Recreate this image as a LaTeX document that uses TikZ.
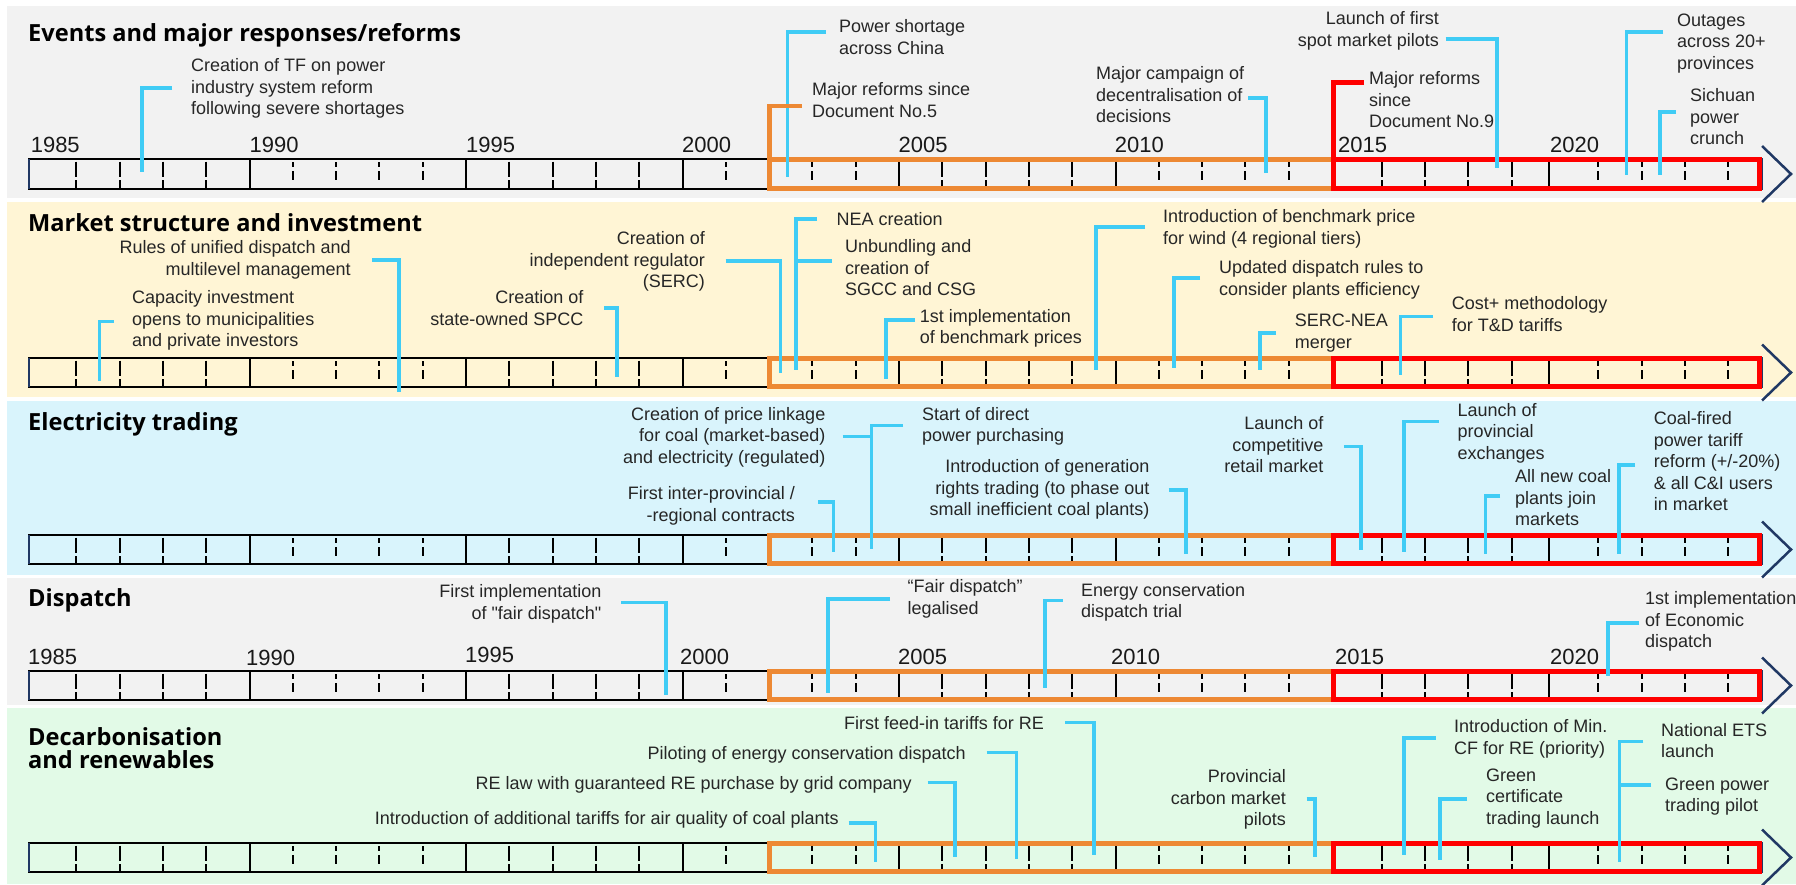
\documentclass[tikz,border=0pt]{standalone}
\usepackage{fontspec}
\setmainfont{Liberation Sans}
\newfontfamily\plainfont{Liberation Sans}[Ligatures=TeXOff]
\newfontfamily\titlefont{Open Sans}
\definecolor{bandgray}{RGB}{242,242,242}
\definecolor{bandyellow}{RGB}{255,245,213}
\definecolor{bandblue}{RGB}{217,244,252}
\definecolor{bandgreen}{RGB}{226,250,231}
\definecolor{cyanline}{RGB}{64,204,245}
\definecolor{orangeline}{RGB}{237,137,52}
\definecolor{navyline}{RGB}{32,56,100}
\tikzset{
  conn/.style={draw=cyanline, line width=3.5pt},
  oconn/.style={draw=orangeline, line width=4.5pt},
  rconn/.style={draw=red, line width=5pt},
  lbl/.style={font=\fontsize{18}{21.5}\selectfont, inner sep=0pt, text=black!85, execute at begin node=\strut},
  lblL/.style={lbl, anchor=north west, align=left},
  lblR/.style={lbl, anchor=north east, align=right},
  ttl/.style={font=\titlefont\bfseries\fontsize{23.6}{23.3}\selectfont, inner sep=0pt, anchor=north west, align=left, execute at begin node=\strut},
  yr/.style={font=\fontsize{22}{26}\selectfont, inner sep=0pt, anchor=west, text=black!90},
  segbox/.style={draw=black, line width=2pt},
  tickln/.style={draw=black, line width=2pt},
  navybody/.style={draw=navyline, line width=2pt},
  orangebox/.style={draw=orangeline, line width=4.5pt},
  redbox/.style={draw=red, line width=5pt},
  arrowhd/.style={draw=navyline, line width=2.5pt, line join=miter}
}
\newcommand{\tlbar}[2]{%
  \pgfmathsetmacro\tbC{(#1+#2)/2}%
  \draw[navybody] (29,#1) rectangle (1762,#2);
  \draw[segbox] (29,#1) rectangle (249.5,#2);
  \draw[segbox] (249.5,#1) rectangle (466,#2);
  \draw[segbox] (466,#1) rectangle (682.5,#2);
  \draw[segbox] (682.5,#1) rectangle (769.5,#2);
  \draw[navybody] (29,#1) -- (29,#2);
  \foreach \yr in {1986,...,2024}{%
    \pgfmathtruncatemacro\tkm{mod(\yr,5)}%
    \pgfmathtruncatemacro\tks{mod(floor((\yr-1985)/5),2)}%
    \pgfmathsetmacro\tkx{33+43.3*(\yr-1985)+6.5*(\yr>2015)}%
    \ifnum\tkm=0\relax\else\ifnum\yr=2002\relax\else
      \ifnum\tks=0
        \draw[tickln] (\tkx,#1+2.5) -- (\tkx,#1+18) (\tkx,#1+21) -- (\tkx,#2-1.5);
      \else
        \draw[tickln] (\tkx,#1+3) -- (\tkx,#1+7.5) (\tkx,#1+12) -- (\tkx,#1+21);
      \fi
    \fi\fi
  }
  \foreach \xx in {899,1115.5,1549}{\draw[tickln] (\xx,#1) -- (\xx,#2);}
  \draw[orangebox] (769.5,#1+0.3) rectangle (1333.5,#2-0.3);
  \draw[redbox] (1333.5,#1+0.5) rectangle (1759.5,#2-1);
  \draw[arrowhd] (1762,\tbC-28) -- (1791,\tbC) -- (1762,\tbC+28);
}
\begin{document}
\begin{tikzpicture}[x=1pt,y=-1pt]
\useasboundingbox (0,0) rectangle (1796,884);
\fill[white] (0,0) rectangle (1796,884);
% bands
\fill[bandgray] (7,6) rectangle (1796,198);
\fill[bandyellow] (7,201.5) rectangle (1796,397);
\fill[bandblue] (7,400.5) rectangle (1796,575);
\fill[bandgray] (7,577.5) rectangle (1796,705);
\fill[bandgreen] (7,707.5) rectangle (1796,884);
% titles
\node[ttl] (t1) at (28,23.7) {Events and major responses/reforms};
\node[ttl] (t2) at (28,213.7) {Market structure and investment};
\node[ttl] (t3) at (28,412.4) {Electricity trading};
\node[ttl] (t4) at (28,588.7) {Dispatch};
\node[ttl] (t5) at (28,727.4) {Decarbonisation\\and renewables};
% bars
\tlbar{159}{189}
\tlbar{358}{387}
\tlbar{535}{564}
\tlbar{671}{700}
\tlbar{843}{872}
% years band 1
\node[yr] (ya85) at (30.6,145) {1985};
\node[yr] (ya90) at (249.5,145) {1990};
\node[yr] (ya95) at (466,145) {1995};
\node[yr] (ya00) at (682,145) {2000};
\node[yr] (ya05) at (898.5,145) {2005};
\node[yr] (ya10) at (1114.7,145) {2010};
\node[yr] (ya15) at (1338,145) {2015};
\node[yr] (ya20) at (1550,145) {2020};
% years band 4
\node[yr] (yb85) at (28,657) {1985};
\node[yr] (yb90) at (246,658) {1990};
\node[yr] (yb95) at (465,655) {1995};
\node[yr] (yb00) at (680,657) {2000};
\node[yr] (yb05) at (898,657) {2005};
\node[yr] (yb10) at (1111,657) {2010};
\node[yr] (yb15) at (1335,657) {2015};
\node[yr] (yb20) at (1550,657) {2020};

% ===== Band 1 labels =====
\node[lblL] (e1) at (191,58.5) {Creation of TF on power\\industry system reform\\following severe shortages};
\node[lblL] (e2) at (839,19.5) {Power shortage\\across China};
\node[lblL] (e3) at (812,82.5) {Major reforms since\\Document No.5};
\node[lblL] (e4) at (1096,66.5) {Major campaign of\\decentralisation of\\decisions};
\node[lblR] (e5) at (1439,11.5) {Launch of first\\spot market pilots};
\node[lblL] (e6) at (1369,71.5) {Major reforms\\since\\Document No.9};
\node[lblL] (e7) at (1677,13.5) {Outages\\across 20+\\provinces};
\node[lblL] (e8) at (1690,88.5) {Sichuan\\power\\crunch};
\coordinate (e1a) at (172,88);     \coordinate (e1b) at (142,172);
\coordinate (e2a) at (826,32);     \coordinate (e2b) at (787.5,177);
\coordinate (e3a) at (802,106);    \coordinate (e3b) at (769.5,160);
\coordinate (e4a) at (1248,98);    \coordinate (e4b) at (1266,173);
\coordinate (e5a) at (1445.5,39);  \coordinate (e5b) at (1497,168);
\coordinate (e6a) at (1364,82);    \coordinate (e6b) at (1333.5,160);
\coordinate (e7a) at (1663,32);    \coordinate (e7b) at (1626.5,175);
\coordinate (e8a) at (1676,112);   \coordinate (e8b) at (1660,175);
\draw[conn] (e1a) -| (e1b);
\draw[conn] (e2a) -| (e2b);
\draw[oconn] (e3a) -| (e3b);
\draw[conn] (e4a) -| (e4b);
\draw[conn] (e5a) -| (e5b);
\draw[rconn] (e6a) -| (e6b);
\draw[conn] (e7a) -| (e7b);
\draw[conn] (e8a) -| (e8b);

% ===== Band 2 labels =====
\node[lblR] (m1) at (351,240.5) {Rules of unified dispatch and\\multilevel management};
\node[lblL] (m2) at (132,290.5) {Capacity investment\\opens to municipalities\\and private investors};
\node[lblR] (m3) at (583.6,290.5) {Creation of\\state-owned SPCC};
\node[lblR] (m4) at (705,231.5) {Creation of\\independent regulator\\(SERC)};
\node[lblL] (m5) at (836.5,210.5) {NEA creation};
\node[lblL] (m6) at (845,239.5) {Unbundling and\\creation of\\SGCC and CSG};
\node[lblL] (m7) at (919.6,309.2) {1st implementation\\of benchmark prices};
\node[lblL] (m8) at (1163,209.5) {Introduction of benchmark price\\for wind (4 regional tiers)};
\node[lblL] (m9) at (1219,260.5) {Updated dispatch rules to\\consider plants efficiency};
\node[lblL] (m10) at (1294.7,314.2) {SERC-NEA\\merger};
\node[lblL] (m11) at (1451.6,296.5) {Cost+ methodology\\for T\&D tariffs};
\coordinate (m1a) at (372,260);     \coordinate (m1b) at (399,392);
\coordinate (m2a) at (114,321.7);   \coordinate (m2b) at (99.5,381);
\coordinate (m3a) at (604,308);     \coordinate (m3b) at (617,377);
\coordinate (m4a) at (725.5,261);   \coordinate (m4b) at (780.6,373);
\coordinate (m5a) at (817,219);     \coordinate (m5b) at (796,370);
\coordinate (m6a) at (831.5,261);   \coordinate (m6b) at (796,261);
\coordinate (m7a) at (915,320);     \coordinate (m7b) at (886,379);
\coordinate (m8a) at (1145,227);    \coordinate (m8b) at (1096,370);
\coordinate (m9a) at (1200,278);    \coordinate (m9b) at (1174,368);
\coordinate (m10a) at (1276,333);   \coordinate (m10b) at (1260,370);
\coordinate (m11a) at (1433,316.7); \coordinate (m11b) at (1400.7,375);
\draw[conn] (m1a) -| (m1b);
\draw[conn] (m2a) -| (m2b);
\draw[conn] (m3a) -| (m3b);
\draw[conn] (m4a) -| (m4b);
\draw[conn] (m5a) -| (m5b);
\draw[conn] (m6a) -- (m6b);
\draw[conn] (m7a) -| (m7b);
\draw[conn] (m8a) -| (m8b);
\draw[conn] (m9a) -| (m9b);
\draw[conn] (m10a) -| (m10b);
\draw[conn] (m11a) -| (m11b);

% ===== Band 3 labels =====
\node[lblR] (x1) at (825.5,407.2) {Creation of price linkage\\for coal (market-based)\\and electricity (regulated)};
\node[lblL] (x2) at (921.8,407.2) {Start of direct\\power purchasing};
\node[lblR] (x3) at (795,486.5) {First inter-provincial /\\-regional contracts};
\node[lblR] (x4) at (1149.7,459.5) {Introduction of generation\\rights trading (to phase out\\small inefficient coal plants)};
\node[lblR] (x5) at (1323.7,416.5) {Launch of\\competitive\\retail market};
\node[lblL] (x6) at (1457.4,403.2) {Launch of\\provincial\\exchanges};
\node[lblL] (x7) at (1515,469.5) {All new coal\\plants join\\markets};
\node[lblL] (x8) at (1653.7,411.5) {Coal-fired\\power tariff\\reform (+/-20\%)\\\& all C\&I users\\in market};
\coordinate (x1a) at (842.7,436.7);  \coordinate (x1b) at (871.4,436.7);
\coordinate (x2a) at (903,425.5);    \coordinate (x2b) at (871.4,549);
\coordinate (x3a) at (818,502);      \coordinate (x3b) at (833.5,552);
\coordinate (x4a) at (1168.7,490);   \coordinate (x4b) at (1186,554);
\coordinate (x5a) at (1343.8,446.7); \coordinate (x5b) at (1361,550);
\coordinate (x6a) at (1438.5,421.7); \coordinate (x6b) at (1404,552);
\coordinate (x7a) at (1500,496);     \coordinate (x7b) at (1485.5,554);
\coordinate (x8a) at (1635,465);     \coordinate (x8b) at (1619,554);
\draw[conn] (x1a) -- (x1b);
\draw[conn] (x2a) -| (x2b);
\draw[conn] (x3a) -| (x3b);
\draw[conn] (x4a) -| (x4b);
\draw[conn] (x5a) -| (x5b);
\draw[conn] (x6a) -| (x6b);
\draw[conn] (x7a) -| (x7b);
\draw[conn] (x8a) -| (x8b);

% ===== Band 4 labels =====
\node[lblR] (d1) at (601.6,584.5) {First implementation\\of {\plainfont"}fair dispatch{\plainfont"}};
\node[lblL] (d2) at (907.5,579.5) {“Fair dispatch”\\legalised};
\node[lblL] (d3) at (1080.8,583.2) {Energy conservation\\dispatch trial};
\node[lblL] (d4) at (1645,591.5) {1st implementation\\of Economic\\dispatch};
\coordinate (d1a) at (621,602.7);    \coordinate (d1b) at (666,695);
\coordinate (d2a) at (890,599);      \coordinate (d2b) at (828,693);
\coordinate (d3a) at (1062.5,600.7); \coordinate (d3b) at (1045,688);
\coordinate (d4a) at (1639.4,623);   \coordinate (d4b) at (1607.8,676);
\draw[conn] (d1a) -| (d1b);
\draw[conn] (d2a) -| (d2b);
\draw[conn] (d3a) -| (d3b);
\draw[conn] (d4a) -| (d4b);

% ===== Band 5 labels =====
\node[lblR] (g1) at (1044,714.2) {First feed-in tariffs for RE};
\node[lblR] (g2) at (966,744.2) {Piloting of energy conservation dispatch};
\node[lblR] (g3) at (912,774.2) {RE law with guaranteed RE purchase by grid company};
\node[lblR] (g4) at (839,809.5) {Introduction of additional tariffs for air quality of coal plants};
\node[lblR] (g5) at (1286,769.5) {Provincial\\carbon market\\pilots};
\node[lblL] (g6) at (1454,719.5) {Introduction of Min.\\CF for RE (priority)};
\node[lblL] (g7) at (1486,768.5) {Green\\certificate\\trading launch};
\node[lblL] (g8) at (1661,723.2) {National ETS\\launch};
\node[lblL] (g9) at (1665,777.5) {Green power\\trading pilot};
\coordinate (g1a) at (1065,722.7);   \coordinate (g1b) at (1094,855);
\coordinate (g2a) at (986.7,752.7);  \coordinate (g2b) at (1016.5,859);
\coordinate (g3a) at (927.6,782.7);  \coordinate (g3b) at (955,856.7);
\coordinate (g4a) at (848.5,823);    \coordinate (g4b) at (875.4,861.7);
\coordinate (g5a) at (1306.5,799);   \coordinate (g5b) at (1315,856.7);
\coordinate (g6a) at (1435.6,738);   \coordinate (g6b) at (1404,855);
\coordinate (g7a) at (1467,799);     \coordinate (g7b) at (1440,860);
\coordinate (g8a) at (1643.4,741.7); \coordinate (g8b) at (1619.3,861.7);
\coordinate (g9a) at (1651,785);     \coordinate (g9b) at (1619.3,785);
\draw[conn] (g1a) -| (g1b);
\draw[conn] (g2a) -| (g2b);
\draw[conn] (g3a) -| (g3b);
\draw[conn] (g4a) -| (g4b);
\draw[conn] (g5a) -| (g5b);
\draw[conn] (g6a) -| (g6b);
\draw[conn] (g7a) -| (g7b);
\draw[conn] (g8a) -| (g8b);
\draw[conn] (g9a) -- (g9b);
\end{tikzpicture}
\end{document}
